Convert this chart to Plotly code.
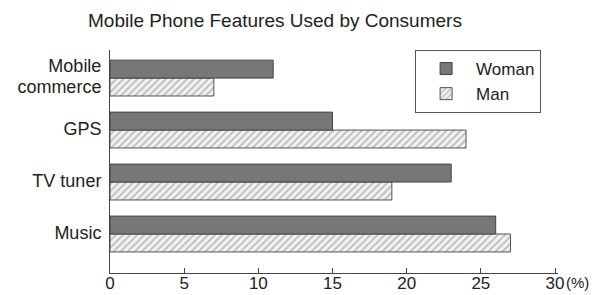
import plotly.graph_objects as go

categories = ["Music", "TV tuner", "GPS", "Mobile commerce"]
tick_lines = [["Music"], ["TV tuner"], ["GPS"], ["Mobile", "commerce"]]
woman = [26, 23, 15, 11]
man = [27, 19, 24, 7]
x_ticks = [0, 5, 10, 15, 20, 25, 30]

FONT = "Liberation Sans, Arial, sans-serif"

y_pos = list(range(len(categories)))
tickvals, ticktext = [], []
for i, lines in enumerate(tick_lines):
    n = len(lines)
    for j, t in enumerate(lines):
        tickvals.append(i + 0.03 + (n - 1) / 2 * 0.4 - j * 0.4)
        ticktext.append(t)

fig = go.Figure()
fig.add_trace(go.Bar(
    y=y_pos, x=man, name="Man", orientation="h",
    marker=dict(color="#f0f0f0", line=dict(color="#555555", width=1),
                pattern=dict(shape="/", fgcolor="#888888", bgcolor="#f2f2f2",
                             size=5, solidity=0.35)),
))
fig.add_trace(go.Bar(
    y=y_pos, x=woman, name="Woman", orientation="h",
    marker=dict(color="#777777", line=dict(color="#444444", width=1)),
))

fig.update_layout(
    width=592, height=287,
    margin=dict(l=102, r=42, t=42, b=22),
    paper_bgcolor="white", plot_bgcolor="white",
    barmode="group", bargap=0.31, bargroupgap=0,
    title=dict(text="Mobile Phone Features Used by Consumers",
               x=0.451, xanchor="center", y=0.958, yanchor="middle",
               font=dict(family=FONT, size=19, color="#222222")),
    font=dict(family=FONT, size=18, color="#222222"),
    showlegend=True,
    legend=dict(x=0.681, y=1.0, xanchor="left", yanchor="top",
                traceorder="reversed", bordercolor="#555555", borderwidth=1,
                bgcolor="white", font=dict(family=FONT, size=17, color="#222222"),
                itemwidth=50),
    xaxis=dict(range=[0, 30.2], tickvals=x_ticks, ticktext=[str(v) for v in x_ticks],
               showgrid=False, zeroline=False, showline=True, linecolor="#444444",
               linewidth=1, ticks="inside", ticklen=5, tickcolor="#444444",
               automargin=False, ticklabelstandoff=-5,
               tickfont=dict(family=FONT, size=17, color="#222222")),
    yaxis=dict(range=[-0.75, 3.54], tickvals=tickvals, ticktext=ticktext,
               showgrid=False, zeroline=False, showline=True,
               linecolor="#444444", linewidth=1, ticks="", ticklabelstandoff=4,
               automargin=False,
               tickfont=dict(family=FONT, size=18, color="#222222")),
)

fig.add_annotation(text="(%)", xref="paper", yref="paper", x=1.0, y=0,
                   xanchor="left", yanchor="top", xshift=6, yshift=1,
                   showarrow=False, font=dict(family=FONT, size=15, color="#222222"))

fig.write_html("out.html")
